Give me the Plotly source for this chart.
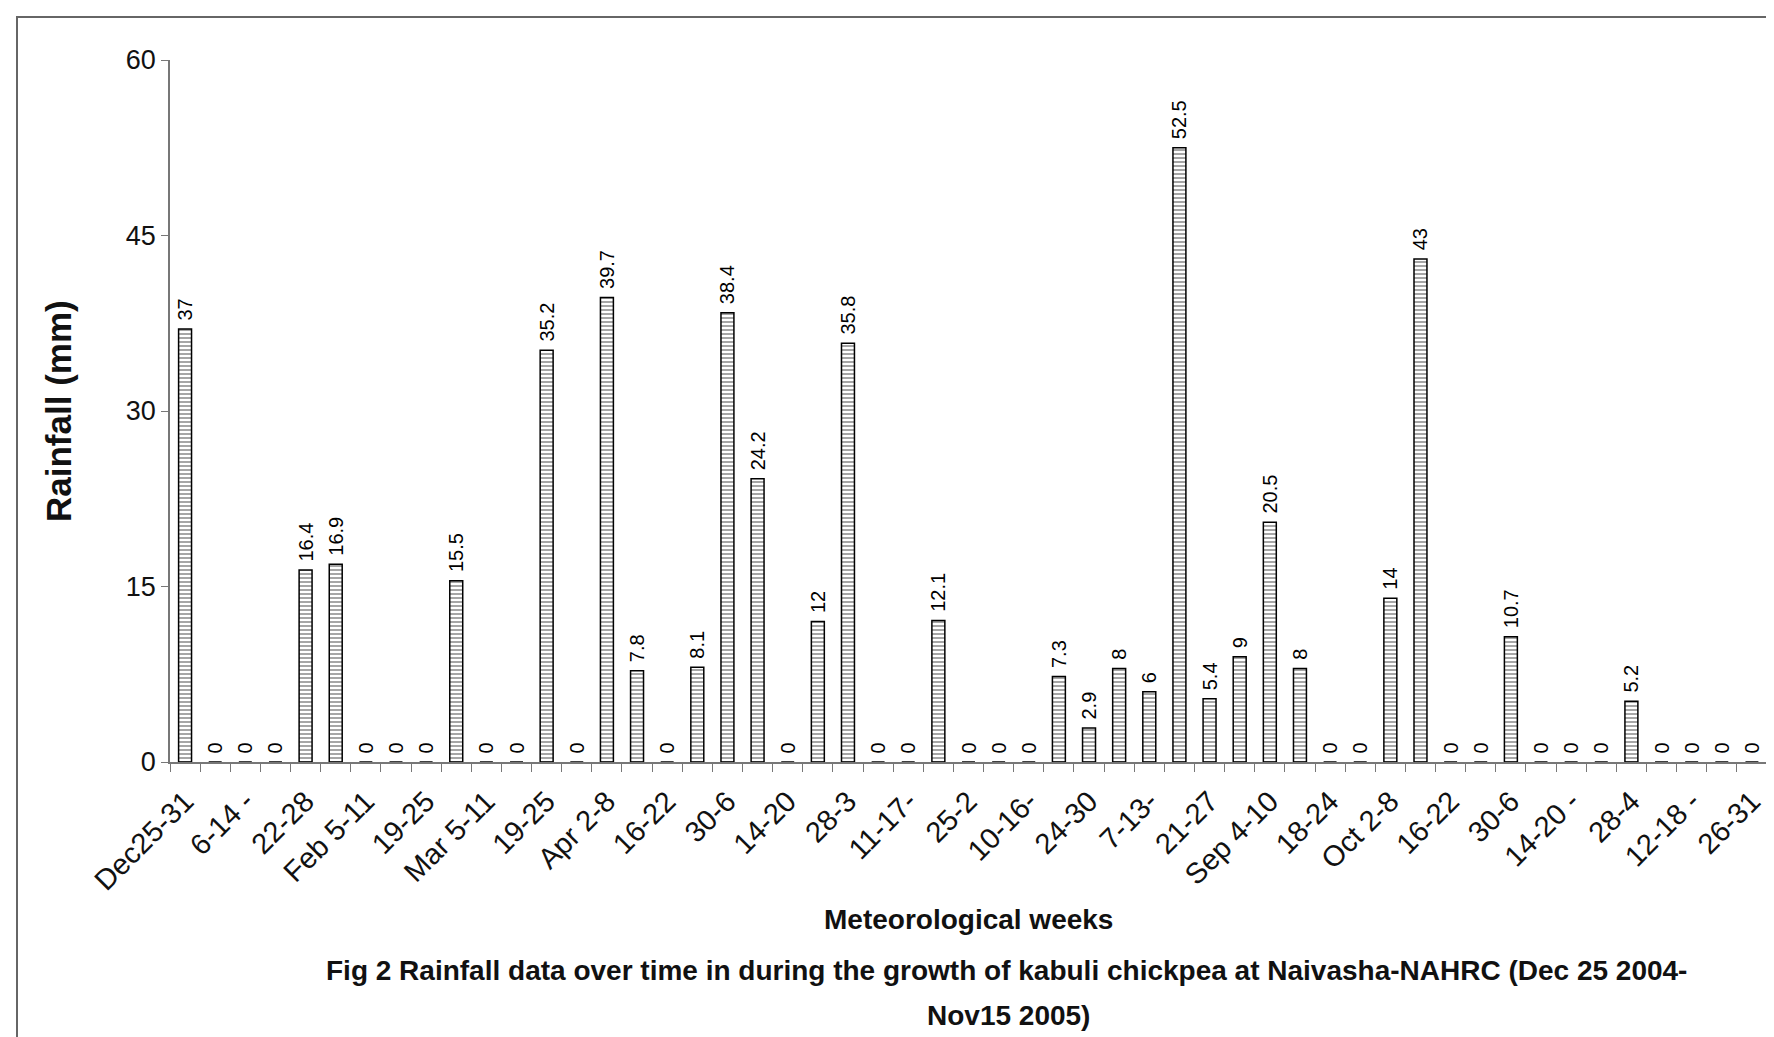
import plotly.graph_objects as go

# Meteorological weeks (only every second week is labelled on the axis)
week_labels = ["Dec25-31", "6-14 -", "22-28", "Feb 5-11", "19-25", "Mar 5-11", "19-25",
               "Apr 2-8", "16-22", "30-6", "14-20", "28-3", "11-17-", "25-2", "10-16-",
               "24-30", "7-13-", "21-27", "Sep 4-10", "18-24", "Oct 2-8", "16-22", "30-6",
               "14-20 -", "28-4", "12-18 -", "26-31"]

# weekly rainfall (mm)
rainfall = [37, 0, 0, 0, 16.4, 16.9, 0, 0, 0, 15.5, 0, 0, 35.2, 0, 39.7, 7.8, 0, 8.1,
            38.4, 24.2, 0, 12, 35.8, 0, 0, 12.1, 0, 0, 0, 7.3, 2.9, 8, 6, 52.5, 5.4, 9,
            20.5, 8, 0, 0, 14, 43, 0, 0, 10.7, 0, 0, 0, 5.2, 0, 0, 0, 0]

y_ticks = [0, 15, 30, 45, 60]

week_no = list(range(1, len(rainfall) + 1))

W, H = 1774, 1037
L, R, T, B = 162, 15, 52, 283
PW, PH = W - L - R, H - T - B

ARIAL = "Liberation Sans, Arial, sans-serif"


def px_x(p):
    return (p - L) / PW


def px_y(p):
    return (H - B - p) / PH


fig = go.Figure()
fig.add_trace(go.Bar(
    x=week_no,
    y=rainfall,
    marker=dict(
        color="white",
        line=dict(color="black", width=1.5),
        pattern=dict(shape="-", fgcolor="black", bgcolor="white", size=4, solidity=0.35),
    ),
    text=rainfall,
    texttemplate="\u00a0%{y}",
    textposition="outside",
    textangle=-90,
    constraintext="none",
    cliponaxis=False,
    textfont=dict(family=ARIAL, size=20, color="black"),
    showlegend=False,
))

fig.update_layout(
    width=W, height=H,
    margin=dict(l=L, r=R, t=T, b=B),
    paper_bgcolor="white",
    plot_bgcolor="white",
    bargap=0.57,
    xaxis=dict(
        range=[0.5, len(rainfall) + 0.5],
        tickmode="array",
        tickvals=week_no[::2],
        ticktext=week_labels,
        tickangle=-45,
        ticks="outside",
        ticklen=9,
        tickcolor="rgba(0,0,0,0)",
        tickfont=dict(family=ARIAL, size=29, color="#111"),
        showline=True,
        linecolor="#777",
        linewidth=1.5,
        showgrid=False,
        zeroline=False,
        minor=dict(
            tickvals=[n - 0.5 for n in week_no] + [week_no[-1] + 0.5],
            ticks="outside",
            ticklen=8,
            tickcolor="#777",
            tickwidth=1.2,
        ),
    ),
    yaxis=dict(
        range=[0, 60],
        tickvals=y_ticks,
        ticks="outside",
        ticklen=7,
        tickcolor="#777",
        tickfont=dict(family=ARIAL, size=27, color="#111"),
        showline=True,
        linecolor="#777",
        linewidth=1.5,
        showgrid=False,
        zeroline=False,
    ),
    annotations=[
        dict(text="<b>Rainfall (mm)</b>", xref="paper", yref="paper",
             x=px_x(50), y=0.5, textangle=-90, showarrow=False,
             xanchor="center", yanchor="middle",
             font=dict(family=ARIAL, size=35, color="#111")),
        dict(text="<b>Meteorological weeks</b>", xref="paper", yref="paper",
             x=0.5, y=px_y(911), showarrow=False, xanchor="center", yanchor="middle",
             font=dict(family=ARIAL, size=28, color="#111")),
        dict(text="<b>Fig 2 Rainfall data over time in during the growth of kabuli chickpea "
                  "at Naivasha-NAHRC (Dec 25 2004-</b>",
             xref="paper", yref="paper", x=px_x(998), y=px_y(962), showarrow=False,
             xanchor="center", yanchor="middle",
             font=dict(family=ARIAL, size=28, color="#111")),
        dict(text="<b>Nov15 2005)</b>", xref="paper", yref="paper",
             x=px_x(1000), y=px_y(1008), showarrow=False,
             xanchor="center", yanchor="middle",
             font=dict(family=ARIAL, size=28, color="#111")),
    ],
    shapes=[
        dict(type="rect", xref="paper", yref="paper",
             x0=px_x(9), x1=px_x(1767), y0=px_y(1031), y1=px_y(9),
             line=dict(color="#666", width=2), fillcolor="rgba(0,0,0,0)", layer="below"),
    ],
)

fig.write_html("out.html")
